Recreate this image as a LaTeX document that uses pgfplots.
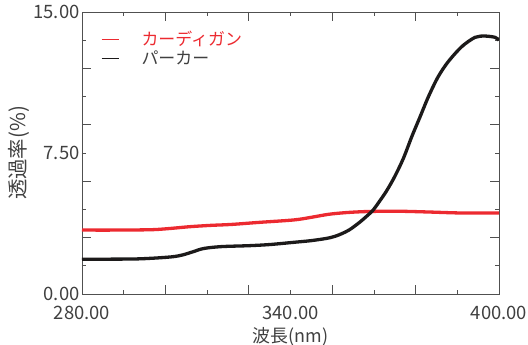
\documentclass[border=0pt]{standalone}
\usepackage{fontspec}
\setmainfont{Noto Sans CJK JP}
\usepackage{pgfplots}
\pgfplotsset{compat=1.18}
\definecolor{cred}{HTML}{EC2A30}
\definecolor{cblack}{HTML}{1C1A1A}
\definecolor{txt}{HTML}{404040}
\definecolor{axc}{HTML}{505050}
\begin{document}
\begin{tikzpicture}
\useasboundingbox (-82bp,-51bp) rectangle (446bp,294bp);
\begin{axis}[
  scale only axis, width=417bp, height=282bp,
  xmin=280, xmax=400, ymin=0, ymax=15,
  axis line style={axc, line width=0.8pt},
  every tick/.style={axc, line width=0.8pt},
  tick align=inside,
  xtick={304,328,352,376}, minor xtick={292,316,340,364,388},
  ytick={3,6,9,12}, minor ytick={1.5,4.5,7.5,10.5,13.5},
  xticklabels={}, yticklabels={},
  major tick length=9bp, minor tick length=4.5bp,
  extra x ticks={280,340,400}, extra x tick labels={280.00,340.00,400.00},
  extra y ticks={0,7.5,15}, extra y tick labels={0.00,7.50,15.00},
  extra tick style={major tick length=0pt},
  /pgf/number format/assume math mode=true,
  tick label style={font=\fontsize{18.5}{20}\selectfont, text=txt},
  xticklabel style={yshift=-9bp},
  yticklabel style={xshift=1bp},
  xlabel={波長(nm)}, ylabel={透過率(\%)},
  xlabel style={font=\fontsize{18}{20}\selectfont, text=txt, yshift=0bp},
  ylabel style={font=\fontsize{20.5}{22}\selectfont, text=txt, yshift=-3bp},
  legend style={draw=none, fill=none, at={(0.045,0.935)}, anchor=north west,
    font=\fontsize{17}{21}\selectfont, row sep=1bp, inner sep=0pt,
    nodes={inner sep=1bp}},
  legend cell align=left,
]
\addlegendimage{legend image code/.code={\draw[cred,line width=1.1pt](0bp,0bp)--(17bp,0bp); \path[draw=none,fill=none] (0bp,0bp) (39bp,0bp);}}
\addlegendentry{\textcolor{cred}{カーディガン}}
\addlegendimage{legend image code/.code={\draw[cblack,line width=0.9pt](0bp,0bp)--(17bp,0bp); \path[draw=none,fill=none] (0bp,0bp) (39bp,0bp);}}
\addlegendentry{\textcolor{txt}{パーカー}}
\addplot[cred, line width=3.3bp, smooth, forget plot] coordinates {
(280,3.40) (290,3.40) (300,3.42) (305,3.48) (311,3.58) (317,3.65) (323,3.70)
(331,3.81) (341,3.94) (346,4.08) (351,4.24) (356,4.33) (361,4.38) (366,4.40)
(372,4.40) (380,4.36) (389,4.31) (400,4.31)};
\addplot[cblack, line width=3.3bp, smooth, forget plot] coordinates {
(280,1.85) (294,1.86) (300,1.90) (306,1.98) (309,2.08) (312,2.25) (315,2.42)
(320,2.52) (328,2.57) (334,2.63) (341,2.75) (346,2.84) (351,2.98) (354,3.15)
(357,3.42) (360,3.83) (362,4.15) (363.8,4.47) (365.8,4.98) (367.7,5.5)
(370,6.25) (372.5,7.22) (374.9,8.37) (377.3,9.43) (379.7,10.5) (382.5,11.56)
(385.4,12.36) (389.3,13.16) (393.1,13.65) (396,13.72) (398.9,13.65) (400,13.5)};
\end{axis}
\end{tikzpicture}
\end{document}
